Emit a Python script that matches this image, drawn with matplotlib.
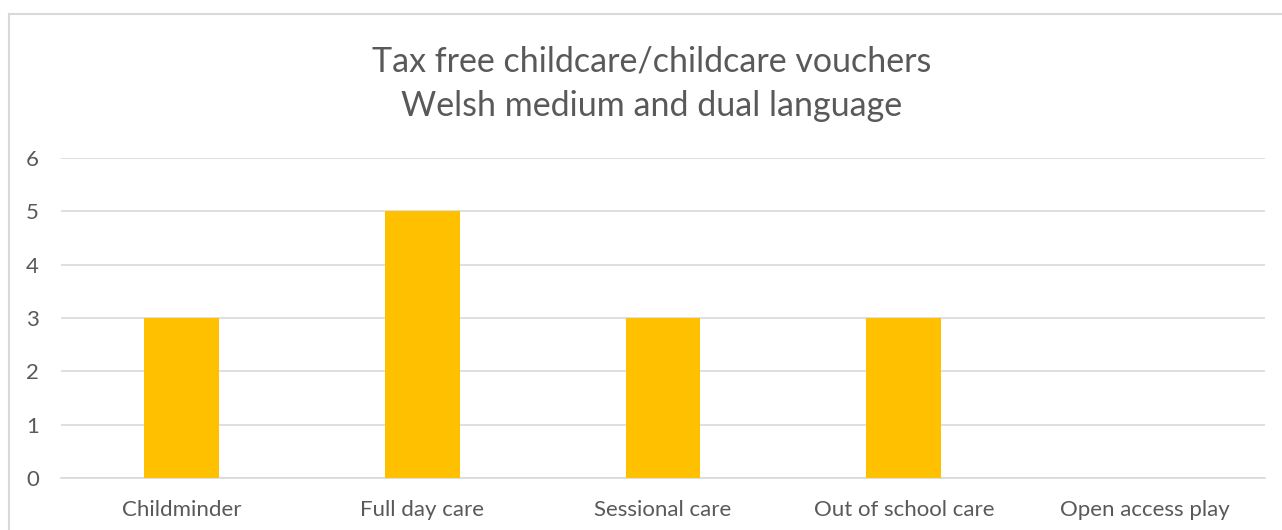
import matplotlib
matplotlib.use("Agg")
import matplotlib.pyplot as plt
from matplotlib.lines import Line2D

categories = ["Childminder", "Full day care", "Sessional care", "Out of school care", "Open access play"]
values = [3, 5, 3, 3, 0]
yticks = [0, 1, 2, 3, 4, 5, 6]
title = "Tax free childcare/childcare vouchers\nWelsh medium and dual language"

plt.rcParams['font.family'] = ['Lato', 'DejaVu Sans']
W, H = 1282, 530
fig = plt.figure(figsize=(W/100, H/100), dpi=100)
ax = fig.add_axes([61/W, 1-478/H, (1265-61)/W, (478-158)/H])

ax.bar(range(len(categories)), values, width=0.31, color="#FFC000", zorder=3)
ax.set_xlim(-0.5, len(categories)-0.5)
ax.set_ylim(0, 6)
ax.set_yticks(yticks)
ax.set_xticks(range(len(categories)))
ax.set_xticklabels(categories)
ax.yaxis.grid(True, color="#D9D9D9", linewidth=1.2, zorder=0)
ax.set_axisbelow(True)
for s in ["top", "right", "left"]:
    ax.spines[s].set_visible(False)
ax.spines["bottom"].set_color("#D9D9D9")
ax.spines["bottom"].set_linewidth(1.2)
ax.tick_params(axis="both", length=0, labelsize=16, colors="#595959")
ax.tick_params(axis="x", pad=16)
ax.tick_params(axis="y", pad=16)

fig.text(651.5/W, 1-84/H, title, ha="center", va="center", fontsize=24.5, color="#595959", linespacing=1.5, multialignment="center")

# chart border
fig.add_artist(Line2D([9/W, 9/W], [0, 1-14/H], transform=fig.transFigure, color="#D9D9D9", linewidth=1.5))
fig.add_artist(Line2D([9/W, 1], [1-14/H, 1-14/H], transform=fig.transFigure, color="#D9D9D9", linewidth=1.5))

fig.savefig("out.png", dpi=100)
